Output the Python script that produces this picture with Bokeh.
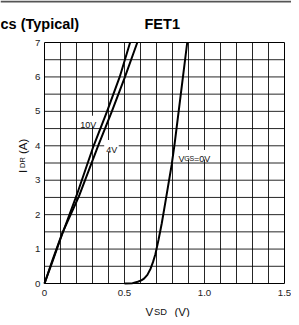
import numpy as np
from bokeh.plotting import figure
from bokeh.models import Label, Range1d
from bokeh.core.properties import value
from bokeh.embed import file_html
from bokeh.resources import INLINE

# ---- data ----
vsd_10v = [0.0, 0.05, 0.10, 0.20, 0.307, 0.391, 0.47, 0.535]
idr_10v = [0.0, 0.64, 1.30, 2.55, 4.0, 5.0, 6.0, 7.0]

vsd_4v = [0.0, 0.05, 0.11, 0.215, 0.335, 0.421, 0.503, 0.58]
idr_4v = [0.0, 0.68, 1.45, 2.53, 4.0, 5.0, 6.0, 7.0]

vsd_0v = [0.50, 0.55, 0.583, 0.605, 0.622, 0.643, 0.663, 0.678, 0.693, 0.713, 0.733,
          0.755, 0.775, 0.795, 0.813, 0.85, 0.892]
idr_0v = [0.0, 0.01, 0.05, 0.09, 0.14, 0.25, 0.43, 0.62, 0.85, 1.28, 1.75,
          2.35, 2.90, 3.45, 4.05, 5.43, 7.0]

x_ticks = [0.0, 0.5, 1.0, 1.5]
x_tick_labels = ["0", "0.5", "1.0", "1.5"]
y_ticks = [0, 1, 2, 3, 4, 5, 6, 7]
y_tick_labels = ["0", "1", "2", "3", "4", "5", "6", "7"]
X_MIN, X_MAX, X_STEP = 0.0, 1.5, 0.1
Y_MIN, Y_MAX, Y_STEP = 0.0, 7.0, 0.5

FONT = "Liberation Sans"
W, H = 291, 317
# chart box in canvas pixels
BOX_L, BOX_R, BOX_T, BOX_B = 44, 284, 42, 283
PX_V = (BOX_R - BOX_L) / (X_MAX - X_MIN)
PX_A = (BOX_B - BOX_T) / (Y_MAX - Y_MIN)
x_range = Range1d(X_MIN - BOX_L / PX_V, X_MAX + (W - BOX_R) / PX_V)
y_range = Range1d(Y_MIN - (H - BOX_B) / PX_A, Y_MAX + BOX_T / PX_A)

p = figure(width=W, height=H, output_backend="svg", toolbar_location=None,
           x_range=x_range, y_range=y_range, min_border=0,
           x_axis_location=None, y_axis_location=None,
           background_fill_color="white", border_fill_color="white")
p.outline_line_color = None
p.grid.visible = False

# grid lines
gx = np.round(np.arange(X_MIN + X_STEP, X_MAX - X_STEP / 2, X_STEP), 3)
gy = np.round(np.arange(Y_MIN + Y_STEP, Y_MAX - Y_STEP / 2, Y_STEP), 3)
p.segment(x0=gx, y0=Y_MIN, x1=gx, y1=Y_MAX, line_color="black", line_width=1, line_alpha=0.85)
p.segment(x0=X_MIN, y0=gy, x1=X_MAX, y1=gy, line_color="black", line_width=1, line_alpha=0.85)
p.quad(left=X_MIN, right=X_MAX, bottom=Y_MIN, top=Y_MAX, fill_color=None,
       line_color="black", line_width=1)

# tick labels
p.text(x=x_ticks, y=Y_MIN, text=x_tick_labels, text_align="center", text_baseline="top",
       y_offset=6, text_font=value(FONT), text_font_size="9.7px", text_color="#222222")
p.text(x=X_MIN, y=y_ticks, text=y_tick_labels, text_align="right", text_baseline="middle",
       x_offset=-4, text_font=value(FONT), text_font_size="9.7px", text_color="#222222")

# curves
p.line(vsd_10v, idr_10v, line_color="black", line_width=2)
p.line(vsd_4v, idr_4v, line_color="black", line_width=2)
p.line(vsd_0v, idr_0v, line_color="black", line_width=2)

def box(l, r, b, t, color="white"):
    p.quad(left=l, right=r, bottom=b, top=t, fill_color=color, line_color=None)

def lab(x, y, text, size, bold=False, angle=0, color="#111111", units="data"):
    p.add_layout(Label(x=x, y=y, text=text, text_font=FONT, text_font_size=f"{size}px",
                       text_font_style="bold" if bold else "normal", angle=angle,
                       text_baseline="alphabetic", text_align="left", text_color=color,
                       x_units=units, y_units=units))

# curve labels with white backgrounds
box(0.205, 0.325, 4.56, 4.87)
box(0.373, 0.464, 3.83, 4.17)
box(0.831, 1.036, 3.60, 3.88)
lab(0.223, 4.61, "10V", 9)
lab(0.386, 3.88, "4V", 9)
lab(0.837, 3.63, "V", 9)
lab(0.873, 3.63, "GS", 7)
lab(0.934, 3.63, "=0V", 9)

# axis labels (canvas pixels, y from top)
lab(145.0, 311.5, "V", 11.5, units="canvas")
lab(153.5, 311.5, "SD", 9.3, units="canvas")
lab(174.0, 311.5, "(V)", 11.5, units="canvas")
lab(22, 172.5, "I", 11.5, angle=np.pi / 2, units="canvas")
lab(22, 167.5, "DR", 7.5, angle=np.pi / 2, units="canvas")
lab(22, 153.5, "(A)", 11.5, angle=np.pi / 2, units="canvas")

# title parts
lab(0, 23.5, "cs (Typical)", 14.5, bold=True, color="black", units="canvas")
lab(144, 23.5, "FET1", 14.5, bold=True, color="black", units="canvas")

# top rule
box(x_range.start, x_range.end, y_range.end - 2 / PX_A, y_range.end, color="#555555")

open("out.html", "w").write(file_html(p, INLINE))
